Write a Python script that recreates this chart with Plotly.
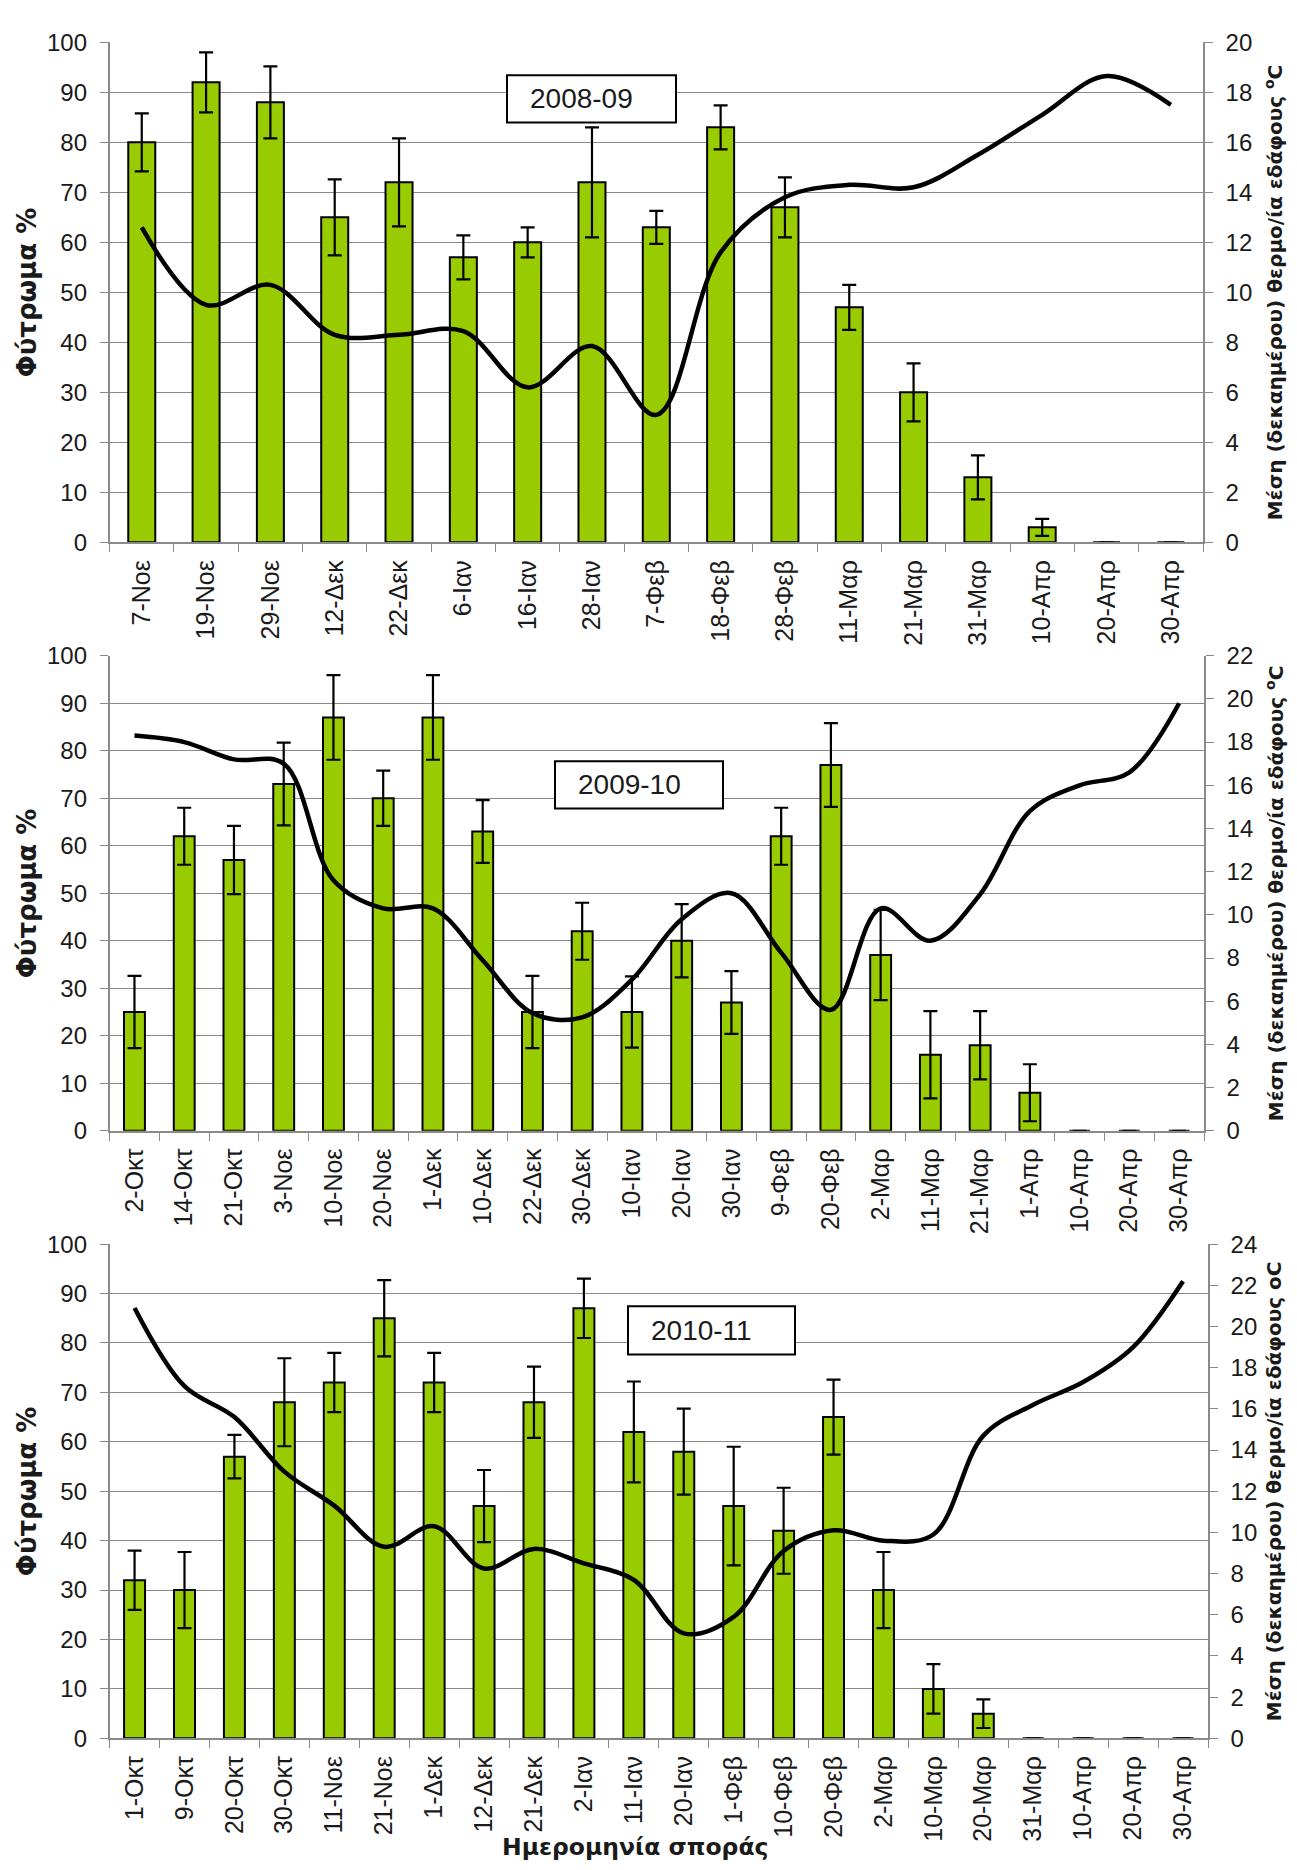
import plotly.graph_objects as go

# ---------------- data ----------------
cats_0809 = ["7-Νοε", "19-Νοε", "29-Νοε", "12-Δεκ", "22-Δεκ", "6-Ιαν", "16-Ιαν", "28-Ιαν",
             "7-Φεβ", "18-Φεβ", "28-Φεβ", "11-Μαρ", "21-Μαρ", "31-Μαρ", "10-Απρ", "20-Απρ", "30-Απρ"]
germ_0809 = [80, 92, 88, 65, 72, 57, 60, 72, 63, 83, 67, 47, 30, 13, 3, 0, 0]
err_0809 = [5.8, 6, 7.2, 7.6, 8.8, 4.4, 3, 11, 3.3, 4.4, 6, 4.5, 5.8, 4.4, 1.7, 0, 0]
temp_0809 = [12.6, 9.5, 10.3, 8.3, 8.3, 8.45, 6.2, 7.85, 5.1, 11.6, 13.8, 14.3, 14.2, 15.5, 17.1, 18.65, 17.5]

cats_0910 = ["2-Οκτ", "14-Οκτ", "21-Οκτ", "3-Νοε", "10-Νοε", "20-Νοε", "1-Δεκ", "10-Δεκ", "22-Δεκ",
             "30-Δεκ", "10-Ιαν", "20-Ιαν", "30-Ιαν", "9-Φεβ", "20-Φεβ", "2-Μαρ", "11-Μαρ", "21-Μαρ",
             "1-Απρ", "10-Απρ", "20-Απρ", "30-Απρ"]
germ_0910 = [25, 62, 57, 73, 87, 70, 87, 63, 25, 42, 25, 40, 27, 62, 77, 37, 16, 18, 8, 0, 0, 0]
err_0910 = [7.6, 6, 7.2, 8.7, 8.9, 5.8, 8.9, 6.6, 7.6, 6, 7.5, 7.7, 6.6, 6, 8.8, 9.5, 9.2, 7.2, 6, 0, 0, 0]
temp_0910 = [18.3, 18.0, 17.2, 17.0, 11.6, 10.3, 10.3, 7.9, 5.45, 5.25, 7.0, 9.8, 11.0, 8.25, 5.6,
             10.3, 8.8, 10.95, 14.8, 16.0, 16.6, 19.8]

cats_1011 = ["1-Οκτ", "9-Οκτ", "20-Οκτ", "30-Οκτ", "11-Νοε", "21-Νοε", "1-Δεκ", "12-Δεκ", "21-Δεκ",
             "2-Ιαν", "11-Ιαν", "20-Ιαν", "1-Φεβ", "10-Φεβ", "20-Φεβ", "2-Μαρ", "10-Μαρ", "20-Μαρ",
             "31-Μαρ", "10-Απρ", "20-Απρ", "30-Απρ"]
germ_1011 = [32, 30, 57, 68, 72, 85, 72, 47, 68, 87, 62, 58, 47, 42, 65, 30, 10, 5, 0, 0, 0, 0]
err_1011 = [6, 7.7, 4.4, 8.9, 6, 7.7, 6, 7.3, 7.2, 6, 10.2, 8.7, 12, 8.7, 7.6, 7.7, 5, 2.9, 0, 0, 0, 0]
temp_1011 = [20.9, 17.1, 15.6, 12.95, 11.3, 9.3, 10.3, 8.25, 9.2, 8.5, 7.7, 5.1, 5.9, 9.1, 10.1,
             9.6, 9.9, 14.7, 16.2, 17.3, 19.0, 22.2]

season_labels = ["2008-09", "2009-10", "2010-11"]
temp_max = [20, 22, 24]
left_title = "Φύτρωμα %"
right_titles = ["Μέση (δεκαημέρου) θερμο/ία εδάφους <sup>o</sup>C",
                "Μέση (δεκαημέρου) θερμο/ία εδάφους <sup>o</sup>C",
                "Μέση (δεκαημέρου) θερμο/ία εδάφους oC"]
x_title = "Ημερομηνία σποράς"

# ---------------- layout geometry (pixels) ----------------
W, H = 1297, 1870
ML, MR = 100, 95
PW = W - ML - MR


def px_x(x):
    return (x - ML) / PW


def px_y(y):
    return 1 - y / H


panels = [
    dict(cats=cats_0809, germ=germ_0809, err=err_0809, temp=temp_0809,
         top=20.6, bottom=528, left=101.6, right=1195,
         box=(499, 668, 54, 102), rt_x=1266),
    dict(cats=cats_0910, germ=germ_0910, err=err_0910, temp=temp_0910,
         top=643, bottom=1125, left=101.6, right=1196,
         box=(547, 715, 750, 798), rt_x=1267),
    dict(cats=cats_1011, germ=germ_1011, err=err_1011, temp=temp_1011,
         top=1240, bottom=1741.5, left=101.6, right=1200,
         box=(620, 787, 1303, 1352), rt_x=1266),
]

FONT = "Liberation Sans, Arial, sans-serif"
TFONT = "DejaVu Sans, Verdana, sans-serif"
GREEN = "#99CC00"
GRID = "#8a8a8a"
TXT = "#1a1a1a"

fig = go.Figure()
layout = dict(
    width=W, height=H,
    margin=dict(l=ML, r=MR, t=0, b=0),
    paper_bgcolor="white", plot_bgcolor="white",
    showlegend=False,
    font=dict(family=FONT, color=TXT),
    hovermode=False,
)
annotations = []
shapes = []

for i, p in enumerate(panels):
    xa = "x" if i == 0 else f"x{i + 1}"
    ya_l = "y" if i == 0 else f"y{2 * i + 1}"
    ya_r = f"y{2 * i + 2}"
    xkey = "xaxis" if i == 0 else f"xaxis{i + 1}"
    ylkey = "yaxis" if i == 0 else f"yaxis{2 * i + 1}"
    yrkey = f"yaxis{2 * i + 2}"

    fig.add_trace(go.Bar(
        x=p["cats"], y=p["germ"], width=0.42,
        marker=dict(color=GREEN, line=dict(color="black", width=2)),
        error_y=dict(type="data", array=p["err"], color="black", thickness=2.2, width=7),
        xaxis=xa, yaxis=ya_l,
    ))
    fig.add_trace(go.Scatter(
        x=p["cats"], y=p["temp"], mode="lines",
        line=dict(color="black", width=4.5, shape="spline", smoothing=1),
        xaxis=xa, yaxis=ya_r,
    ))

    ydom = [px_y(p["bottom"]), px_y(p["top"])]
    layout[xkey] = dict(
        domain=[px_x(p["left"]), px_x(p["right"])], anchor=ya_l,
        type="category", tickson="boundaries", ticks="outside", ticklen=8,
        tickcolor=GRID, showline=True, linecolor=GRID, linewidth=1.5,
        tickangle=-90, tickfont=dict(size=25, family=FONT, color=TXT),
        ticklabelstandoff=6,
        showgrid=False, fixedrange=True,
    )
    layout[ylkey] = dict(
        domain=ydom, anchor=xa, range=[0, 100], dtick=10,
        showgrid=True, gridcolor=GRID, gridwidth=1.3,
        ticks="outside", ticklen=8, tickcolor=GRID,
        showline=True, linecolor=GRID, linewidth=1.5,
        tickfont=dict(size=24, family=FONT, color=TXT), zeroline=False,
        ticklabelstandoff=8,
    )
    layout[yrkey] = dict(
        overlaying=ya_l, side="right", anchor=xa, range=[0, temp_max[i]], dtick=2,
        showgrid=False, ticks="outside", ticklen=8, tickcolor=GRID,
        showline=True, linecolor=GRID, linewidth=1.5,
        tickfont=dict(size=24, family=FONT, color=TXT), zeroline=False,
        ticklabelstandoff=8,
    )

    cy = (p["top"] + p["bottom"]) / 2
    annotations.append(dict(
        text=f"<b>{left_title}</b>", textangle=-90, xref="paper", yref="paper",
        x=px_x(19), y=px_y(cy), xanchor="center", yanchor="middle", showarrow=False,
        font=dict(size=26, family=TFONT, color=TXT),
    ))
    annotations.append(dict(
        text=f"<b>{right_titles[i]}</b>", textangle=-90, xref="paper", yref="paper",
        x=px_x(p["rt_x"]), y=px_y(cy), xanchor="center", yanchor="middle", showarrow=False,
        font=dict(size=20, family=TFONT, color=TXT),
    ))
    bx0, bx1, by0, by1 = p["box"]
    shapes.append(dict(
        type="rect", xref="paper", yref="paper",
        x0=px_x(bx0), x1=px_x(bx1), y0=px_y(by1), y1=px_y(by0),
        line=dict(color="black", width=2), fillcolor="white", layer="above",
    ))
    annotations.append(dict(
        text=season_labels[i], xref="paper", yref="paper",
        x=px_x((bx0 + bx1) / 2 - 10), y=px_y((by0 + by1) / 2),
        xanchor="center", yanchor="middle", showarrow=False,
        font=dict(size=28, family=FONT, color=TXT),
    ))

annotations.append(dict(
    text=f"<b>{x_title}</b>", xref="paper", yref="paper",
    x=px_x(627), y=px_y(1852), xanchor="center", yanchor="middle", showarrow=False,
    font=dict(size=23.5, family=TFONT, color=TXT),
))

layout["annotations"] = annotations
layout["shapes"] = shapes
fig.update_layout(**layout)

fig.write_html("out.html", config={"displayModeBar": False})
